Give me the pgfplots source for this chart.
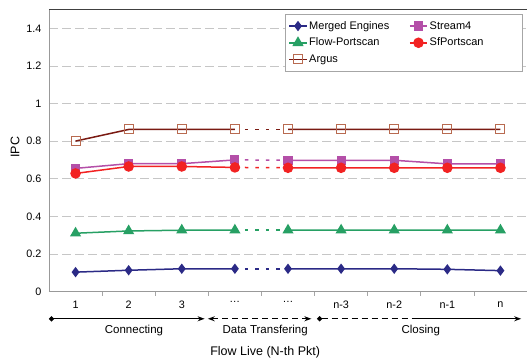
\documentclass[border=0pt]{standalone}
\usepackage{pgfplots}
\pgfplotsset{compat=1.18}
\usetikzlibrary{arrows.meta}
\usepackage{fontspec}
\setmainfont{Liberation Sans}
\definecolor{cME}{HTML}{2B2A86}
\definecolor{cST}{HTML}{B44FA8}
\definecolor{cFP}{HTML}{27A064}
\definecolor{cSF}{HTML}{F22222}
\definecolor{cAR}{HTML}{7A1A12}
\definecolor{cARm}{HTML}{B86A50}
\newcommand{\threedots}{\ldots}
\newcommand{\lgA}[1]{\makebox[96bp][l]{#1}}
\newcommand{\lgB}[1]{\makebox[88bp][l]{#1}}
\begin{document}
\fontsize{10.5bp}{12.6bp}\selectfont
\begin{tikzpicture}
\begin{axis}[name=ax, scale only axis, width=478bp, height=282bp,
  xmin=-0.5, xmax=8.5, ymin=0, ymax=1.5,
  clip=false,
  axis x line*=bottom, axis y line*=left,
  axis line style={draw=gray!80, line width=0.8bp},
  ytick={0,0.2,0.4,0.6,0.8,1,1.2,1.4},
  xtick={0,1,2,3,4,5,6,7,8},
  xticklabels={1,2,3,\threedots,\threedots,n-3,n-2,n-1,n},
  minor xtick={0.5,1.5,2.5,3.5,4.5,5.5,6.5,7.5},
  major tick length=0pt, minor tick length=4bp,
  tick align=outside,
  tick style={draw=gray!70, line width=0.6bp},
  xticklabel style={yshift=-6bp},
  yticklabel style={xshift=-4bp},
  /pgf/number format/assume math mode=true,
  ticklabel style={font=\fontsize{10.8bp}{12.6bp}\selectfont},
  ymajorgrids,
  major grid style={draw=gray!45, dash pattern=on 9bp off 4bp, line width=0.8bp},
  unbounded coords=jump,
  legend columns=2,
  legend cell align=left,
  legend style={at={(0.9916,0.984)}, anchor=north east, draw=gray!70, line width=0.5bp,
    font=\fontsize{11bp}{13bp}\selectfont, inner xsep=3bp, inner ysep=5bp, row sep=3.2bp,
    /tikz/every even column/.append style={column sep=2bp}},
  every axis plot/.append style={line width=1.5bp},
]
\addplot[cME, mark=diamond*, mark size=4bp] coordinates {(0,0.103)(1,0.113)(2,0.121)(3,0.121)(3.5,nan)(4,0.121)(5,0.121)(6,0.121)(7,0.118)(8,0.111)};
\addlegendentry{\lgA{Merged Engines}}
\addplot[cST, mark=square*, mark size=3.8bp] coordinates {(0,0.655)(1,0.680)(2,0.680)(3,0.700)(3.5,nan)(4,0.698)(5,0.698)(6,0.698)(7,0.679)(8,0.679)};
\addlegendentry{\lgB{Stream4}}
\addplot[cFP, mark=triangle*, mark size=5bp] coordinates {(0,0.310)(1,0.322)(2,0.326)(3,0.326)(3.5,nan)(4,0.326)(5,0.326)(6,0.326)(7,0.326)(8,0.326)};
\addlegendentry{\lgA{Flow-Portscan}}
\addplot[cSF, mark=*, mark size=4.5bp] coordinates {(0,0.628)(1,0.665)(2,0.665)(3,0.660)(3.5,nan)(4,0.658)(5,0.658)(6,0.658)(7,0.658)(8,0.658)};
\addlegendentry{\lgB{SfPortscan}}
\addplot[cAR, mark=square, mark size=4.5bp, mark options={draw=cARm, fill=white, line width=1bp}] coordinates {(0,0.800)(1,0.862)(2,0.862)(3,0.862)(3.5,nan)(4,0.862)(5,0.862)(6,0.862)(7,0.862)(8,0.862)};
\addlegendentry{\lgA{Argus}}
% dotted gaps
\addplot[cME, forget plot, dash pattern=on 3.5bp off 7bp, shorten <=10bp, shorten >=7bp] coordinates {(3,0.121)(4,0.121)};
\addplot[cST, forget plot, dash pattern=on 3.5bp off 7bp, shorten <=10bp, shorten >=7bp] coordinates {(3,0.700)(4,0.698)};
\addplot[cFP, forget plot, dash pattern=on 3.5bp off 7bp, shorten <=10bp, shorten >=7bp] coordinates {(3,0.326)(4,0.326)};
\addplot[cSF, forget plot, dash pattern=on 3.5bp off 7bp, shorten <=10bp, shorten >=7bp] coordinates {(3,0.660)(4,0.658)};
\addplot[cAR, forget plot, dash pattern=on 3.5bp off 7bp, shorten <=10bp, shorten >=7bp] coordinates {(3,0.862)(4,0.862)};
% top frame
\draw[black!75, line width=0.8bp] (rel axis cs:0,1) -- (rel axis cs:1,1);
% phase arrows
\draw[line width=1.2bp, {Circle[length=5bp]}-{Stealth[length=7bp,width=5bp]}] (axis cs:-0.5,-0.145) -- (axis cs:2.43,-0.145);
\draw[line width=1.2bp, dash pattern=on 6bp off 4bp, {Stealth[length=7bp,width=5bp]}-{Stealth[length=7bp,width=5bp]}] (axis cs:2.49,-0.145) -- (axis cs:4.44,-0.145);
\draw[line width=1.2bp, dash pattern=on 6bp off 4bp, {Circle[length=5bp]}-] (axis cs:4.55,-0.145) -- (axis cs:6.34,-0.145);
\draw[line width=1.2bp, -{Stealth[length=7bp,width=5bp]}] (axis cs:6.34,-0.145) -- (axis cs:8.39,-0.145);
\node[font=\fontsize{11.5bp}{13bp}\selectfont] at (axis cs:1.1,-0.209) {Connecting};
\node[font=\fontsize{11.5bp}{13bp}\selectfont] at (axis cs:3.57,-0.209) {Data Transfering};
\node[font=\fontsize{11.5bp}{13bp}\selectfont] at (axis cs:6.5,-0.209) {Closing};
\node[font=\fontsize{12.5bp}{15bp}\selectfont] at (axis cs:3.57,-0.322) {Flow Live (N-th Pkt)};
\node[rotate=90, font=\fontsize{12.5bp}{15bp}\selectfont] at (axis cs:-1.14,0.768) {IPC};
\end{axis}
\pgfresetboundingbox
\path ([shift={(-49bp,-68.3bp)}]ax.south west) rectangle ([shift={(0,9.5bp)}]ax.north east);
\end{tikzpicture}
\end{document}
